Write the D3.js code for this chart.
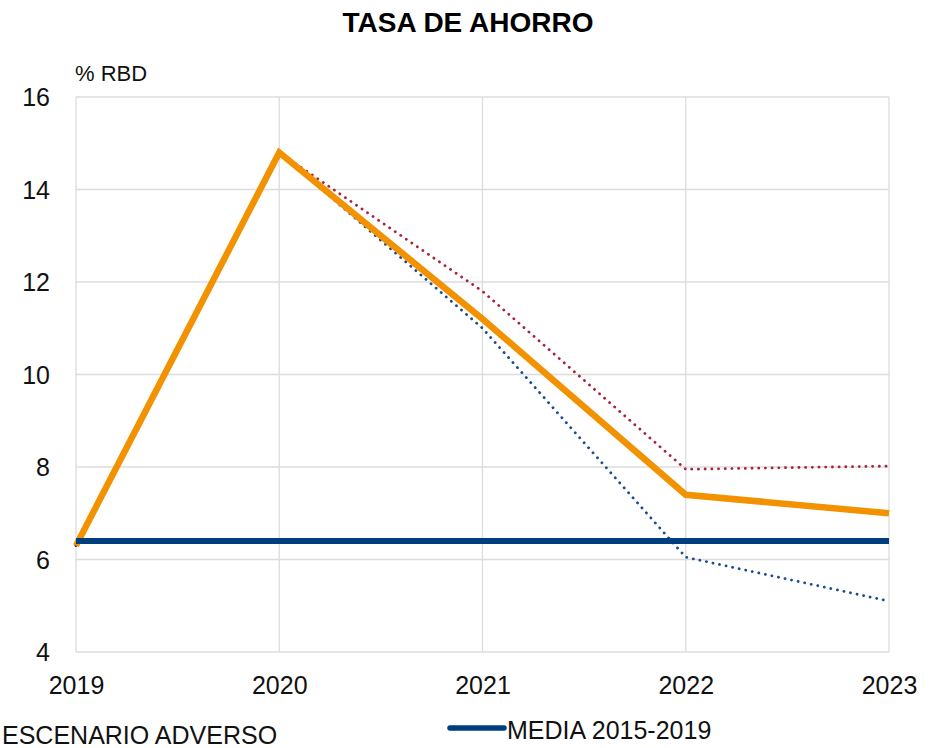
<!DOCTYPE html>
<html>
<head>
<meta charset="utf-8">
<script src="https://cdn.jsdelivr.net/npm/d3@7"></script>
<style>
  html, body { margin: 0; padding: 0; background: #fff; }
  svg { display: block; font-family: "Liberation Sans", Arial, Helvetica, sans-serif; }
</style>
</head>
<body>
<svg id="chart" width="933" height="748"></svg>
<script>
// Savings rate (% of gross disposable income), adverse scenario
const years = [2019, 2020, 2021, 2022, 2023];
const adverse = [6.3, 14.8, 11.2, 7.4, 7.0];
const adverseHigh = [6.3, 14.8, 11.8, 7.95, 8.02];
const adverseLow = [6.3, 14.8, 11.0, 6.05, 5.1];
const average = [6.4, 6.4, 6.4, 6.4, 6.4];
const yTicks = [4, 6, 8, 10, 12, 14, 16];

const svg = d3.select("#chart");
const margin = { left: 76, right: 44, top: 97, bottom: 96 };
const W = 933, H = 748;

const x = d3.scalePoint().domain(years).range([margin.left, W - margin.right]);
const y = d3.scaleLinear().domain([4, 16]).range([H - margin.bottom, margin.top]);

// Title and unit
svg.append("text")
  .attr("x", 468).attr("y", 32)
  .attr("text-anchor", "middle")
  .attr("font-size", 28).attr("font-weight", "bold").attr("fill", "#000")
  .text("TASA DE AHORRO");

svg.append("text")
  .attr("x", 75).attr("y", 81)
  .attr("font-size", 22).attr("fill", "#111")
  .text("% RBD");

// Horizontal gridlines
svg.append("g")
  .selectAll("line")
  .data(yTicks)
  .join("line")
  .attr("x1", margin.left).attr("x2", W - margin.right)
  .attr("y1", d => y(d)).attr("y2", d => y(d))
  .attr("stroke", "#dcdcdc").attr("stroke-width", 1.3);

// Vertical gridlines
svg.append("g")
  .selectAll("line")
  .data(years)
  .join("line")
  .attr("x1", d => x(d)).attr("x2", d => x(d))
  .attr("y1", y(16)).attr("y2", y(4))
  .attr("stroke", "#dcdcdc").attr("stroke-width", 1.3);

// Y axis labels
const yAxis = d3.axisLeft(y).tickValues(yTicks).tickSize(0).tickPadding(0).tickFormat(d3.format("d"));
svg.append("g")
  .attr("transform", `translate(${50},0)`)
  .call(yAxis)
  .call(g => g.select(".domain").remove())
  .call(g => g.selectAll("text")
    .attr("font-size", 25).attr("fill", "#111")
    .attr("font-family", "'Liberation Sans', Arial, sans-serif")
    .attr("dy", "0.35em"));

// X axis labels
const xAxis = d3.axisBottom(x).tickSize(0).tickPadding(0).tickFormat(d3.format("d"));
svg.append("g")
  .attr("transform", `translate(0,${676})`)
  .call(xAxis)
  .call(g => g.select(".domain").remove())
  .call(g => g.selectAll("text")
    .attr("font-size", 25).attr("fill", "#111")
    .attr("font-family", "'Liberation Sans', Arial, sans-serif")
    .attr("dy", "0.71em"));

const line = d3.line().x((d, i) => x(years[i])).y(d => y(d));

// Dotted scenario bounds
svg.append("path")
  .datum(adverseHigh)
  .attr("d", line)
  .attr("fill", "none").attr("stroke", "#a6243c")
  .attr("stroke-width", 2.8).attr("stroke-linecap", "round")
  .attr("stroke-dasharray", "0.1 6.6");

svg.append("path")
  .datum(adverseLow)
  .attr("d", line)
  .attr("fill", "none").attr("stroke", "#1a4c8f")
  .attr("stroke-width", 2.8).attr("stroke-linecap", "round")
  .attr("stroke-dasharray", "0.1 6.6");

// Central adverse scenario
svg.append("path")
  .datum(adverse)
  .attr("d", line)
  .attr("fill", "none").attr("stroke", "#f39200")
  .attr("stroke-width", 6.5).attr("stroke-linejoin", "miter");

// 2015-2019 average
svg.append("path")
  .datum(average)
  .attr("d", line)
  .attr("fill", "none").attr("stroke", "#003f7f")
  .attr("stroke-width", 6);

// Legend
svg.append("text")
  .attr("x", 2).attr("y", 744)
  .attr("font-size", 25).attr("fill", "#111")
  .text("ESCENARIO ADVERSO");

svg.append("line")
  .attr("x1", 450).attr("x2", 504)
  .attr("y1", 728).attr("y2", 728)
  .attr("stroke", "#003f7f").attr("stroke-width", 5.5)
  .attr("stroke-linecap", "round");

svg.append("text")
  .attr("x", 507).attr("y", 739)
  .attr("font-size", 25).attr("fill", "#111")
  .text("MEDIA 2015-2019");
</script>
</body>
</html>
